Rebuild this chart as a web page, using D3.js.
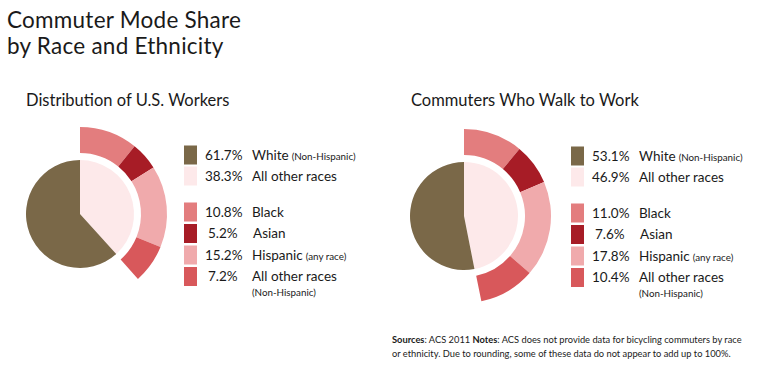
<!DOCTYPE html>
<html>
<head>
<meta charset="utf-8">
<script src="https://cdn.jsdelivr.net/npm/d3@7/dist/d3.min.js"></script>
<style>
  html, body { margin: 0; padding: 0; background: #fff; }
  svg { display: block; }
  text { font-family: Lato, "Open Sans", sans-serif; fill: #1a1a1a; }
</style>
</head>
<body>
<svg id="chart" width="770" height="366"></svg>
<script>
// ---- data ----
const mainCategories = ["White", "All other races"];
const mainNotes = ["(Non-Hispanic)", ""];
const subCategories = ["Black", "Asian", "Hispanic", "All other races"];
const subNotes = ["", "", "(any race)", "(Non-Hispanic)"];
const workersMain = [61.7, 38.3];
const workersSub = [10.8, 5.2, 15.2, 7.2];
const walkMain = [53.1, 46.9];
const walkSub = [11.0, 7.6, 17.8, 10.4];
const mainColors = ["#7a6848", "#fde9ea"];
const subColors = ["#e37d7e", "#a71c26", "#f0aaac", "#d8585b"];

const svg = d3.select("#chart");

// titles
svg.append("text").attr("x", 7).attr("y", 28).attr("font-size", 22.5).attr("letter-spacing", 0.25).text("Commuter Mode Share");
svg.append("text").attr("x", 7).attr("y", 54).attr("font-size", 22.5).attr("letter-spacing", 0.25).text("by Race and Ethnicity");

const angle = d3.scaleLinear().domain([0, 100]).range([0, 2 * Math.PI]);

function panel(opts) {
  const g = svg.append("g");
  g.append("text").attr("x", opts.titleX).attr("y", 106).attr("font-size", 16.5).text(opts.title);

  const cg = g.append("g").attr("transform", `translate(${opts.cx},${opts.cy})`);
  // inner pie: "other" starts at top, then white
  const pieArc = d3.arc().innerRadius(0).outerRadius(54);
  const otherEnd = angle(opts.main[1]);
  cg.append("path")
    .attr("d", pieArc({ startAngle: 0, endAngle: otherEnd }))
    .attr("fill", mainColors[1]);
  cg.append("path")
    .attr("d", pieArc({ startAngle: otherEnd, endAngle: angle(100) }))
    .attr("fill", mainColors[0]);
  // outer ring
  const ringArc = d3.arc().innerRadius(61).outerRadius(87);
  let acc = 0;
  opts.sub.forEach((v, i) => {
    cg.append("path")
      .attr("d", ringArc({ startAngle: angle(acc), endAngle: angle(acc + v) }))
      .attr("fill", subColors[i]);
    acc += v;
  });

  // legend
  const lg = g.append("g");
  const rows = [];
  opts.main.forEach((v, i) => rows.push({ v, label: mainCategories[i], note: mainNotes[i], color: mainColors[i], y: opts.ly + i * 21 }));
  opts.sub.forEach((v, i) => rows.push({ v, label: subCategories[i], note: subNotes[i], color: subColors[i], y: opts.ly + 57 + i * 21.5 }));
  const fmt = d3.format(".1f");
  rows.forEach((r, idx) => {
    lg.append("rect").attr("x", opts.sx).attr("y", r.y - 9.5).attr("width", 13).attr("height", 19).attr("fill", r.color);
    const short = r.v < 10;
    lg.append("text").attr("x", opts.sx + 21 + (short ? 3 : 0)).attr("y", r.y + 4.5).attr("font-size", 13.5).text(fmt(r.v) + "%");
    const lt = lg.append("text").attr("x", opts.sx + 68 + (short && idx !== rows.length - 1 ? 1 : 0)).attr("y", r.y + 4.5).attr("font-size", 13.5);
    lt.append("tspan").text(r.label);
    if (r.note && r.label !== "All other races") {
      lt.append("tspan").attr("font-size", 9.8).attr("dx", 3).text(r.note);
    } else if (r.note) {
      lg.append("text").attr("x", opts.sx + 68).attr("y", r.y + 19).attr("font-size", 9.8).text(r.note);
    }
  });
}

panel({ title: "Distribution of U.S. Workers", titleX: 26, cx: 80, cy: 214, main: workersMain, sub: workersSub, sx: 184, ly: 155 });
panel({ title: "Commuters Who Walk to Work", titleX: 411, cx: 464, cy: 216, main: walkMain, sub: walkSub, sx: 571, ly: 156 });

// notes
const n = svg.append("text").attr("font-size", 9.3);
const l1 = n.append("tspan").attr("x", 392).attr("y", 343);
l1.append("tspan").attr("font-weight", "bold").text("Sources");
l1.append("tspan").text(": ACS 2011 ");
l1.append("tspan").attr("font-weight", "bold").text("Notes");
l1.append("tspan").text(": ACS does not provide data for bicycling commuters by race");
n.append("tspan").attr("x", 392).attr("y", 357).text("or ethnicity. Due to rounding, some of these data do not appear to add up to 100%.");
</script>
</body>
</html>
